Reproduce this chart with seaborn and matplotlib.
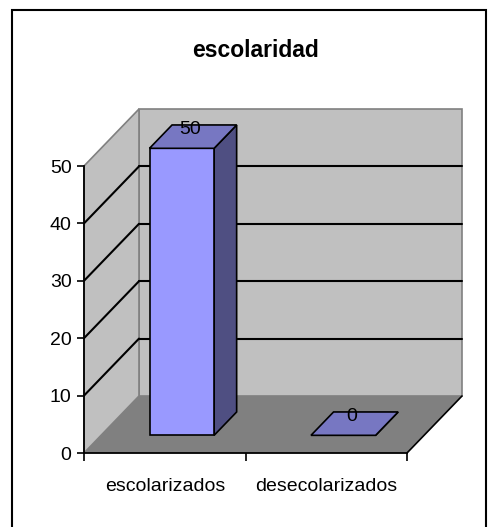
import matplotlib
matplotlib.use('Agg')
import matplotlib.pyplot as plt
import seaborn as sns
from matplotlib.patches import Polygon, Rectangle
from matplotlib import font_manager

categories = ['escolarizados', 'desecolarizados']
values = [50, 0]
yticks = [0, 10, 20, 30, 40, 50]
title = 'escolaridad'

sns.set_theme(style='white')
names = {f.name for f in font_manager.fontManager.ttflist}
narrow = 'Liberation Sans Narrow' in names
fam = ['Liberation Sans Narrow'] if narrow else ['Liberation Sans']
plt.rcParams['font.family'] = fam + ['DejaVu Sans']
plt.rcParams['text.color'] = 'black'
plt.rcParams['xtick.color'] = 'black'
plt.rcParams['ytick.color'] = 'black'
LS = 15.5 if narrow else 14
TS = 19 if narrow else 16.5

W, H = 488, 527
fig = plt.figure(figsize=(W / 100, H / 100), dpi=100)
fig.patch.set_facecolor('white')
ax = fig.add_axes([84 / W, (H - 453) / H, (407 - 84) / W, (453 - 166) / H])

sns.barplot(x=categories, y=values, ax=ax, width=0.4, color='#9999FF',
            saturation=1, edgecolor='black', linewidth=1.2)
bars = list(ax.patches)

ax.set_xlim(-0.5, 1.5)
ax.set_ylim(0, 50)
ax.patch.set_visible(False)

# depth of the 3D box in data units
DX = 55 / ((407 - 84) / 2)
DY = 57 / ((453 - 166) / 50)
x0w, x1w = -0.5, 1.5
ymax = yticks[-1]

# floor
ax.add_patch(Polygon([(x0w, 0), (x1w, 0), (x1w + DX, DY), (x0w + DX, DY)],
                     closed=True, facecolor='#808080', edgecolor='none',
                     zorder=1, clip_on=False))
ax.plot([x1w, x1w + DX], [0, DY], color='black', lw=1.2, zorder=2, clip_on=False)
# back wall
ax.add_patch(Rectangle((x0w + DX, DY), x1w - x0w, ymax, facecolor='#C0C0C0',
                       edgecolor='#808080', lw=1.2, zorder=1, clip_on=False))
# left wall
ax.add_patch(Polygon([(x0w, 0), (x0w, ymax), (x0w + DX, ymax + DY), (x0w + DX, DY)],
                     closed=True, facecolor='#C0C0C0', edgecolor='#808080',
                     lw=1.2, zorder=1, clip_on=False))
# gridlines
for v in yticks[1:-1]:
    ax.plot([x0w + DX, x1w + DX], [v + DY, v + DY], color='black', lw=1.5,
            zorder=2, clip_on=False)
    ax.plot([x0w, x0w + DX], [v, v + DY], color='black', lw=1.5,
            zorder=2, clip_on=False)

# 3D bars
f = 0.31
b = 0.41
bdx, bdy = b * DX, b * DY
for p, val in zip(bars, values):
    xs = p.get_x() + f * DX
    w = p.get_width()
    h = p.get_height()
    ys = f * DY
    p.set_x(xs)
    p.set_y(ys)
    p.set_zorder(5)
    p.set_clip_on(False)
    side = Polygon([(xs + w, ys), (xs + w, ys + h), (xs + w + bdx, ys + h + bdy),
                    (xs + w + bdx, ys + bdy)], closed=True, facecolor='#4F4F82',
                   edgecolor='black', lw=1.2, zorder=4, clip_on=False)
    top = Polygon([(xs, ys + h), (xs + w, ys + h), (xs + w + bdx, ys + h + bdy),
                   (xs + bdx, ys + h + bdy)], closed=True, facecolor='#7777C2',
                  edgecolor='black', lw=1.2, zorder=6, clip_on=False)
    ax.add_patch(side)
    ax.add_patch(top)
    ax.annotate(f'{val}', xy=(xs + w / 2 + bdx / 2, ys + h + bdy / 2),
                xytext=(-3, 3), textcoords='offset pixels', ha='center',
                va='baseline', fontsize=LS, color='black', zorder=7,
                annotation_clip=False)

# axes
for s in ['top', 'right']:
    ax.spines[s].set_visible(False)
for s in ['left', 'bottom']:
    ax.spines[s].set_visible(True)
    ax.spines[s].set_color('black')
    ax.spines[s].set_linewidth(1.3)
    ax.spines[s].set_zorder(8)
ax.set_yticks(yticks)
ax.set_yticklabels([str(t) for t in yticks])
ax.tick_params(axis='y', direction='out', length=5, width=1.2, color='black',
               labelcolor='black', labelsize=LS, pad=4, left=True)
ax.set_xticks([-0.5, 0.5, 1.5])
ax.set_xticklabels(['', '', ''])
ax.tick_params(axis='x', which='major', direction='out', length=6, width=1.2,
               color='black', bottom=True)
ax.set_xticks([0, 1], minor=True)
ax.set_xticklabels(categories, minor=True)
ax.tick_params(axis='x', which='minor', length=0, labelsize=LS,
               labelcolor='black', pad=18)
ax.set_xlabel('')
ax.set_ylabel('')

fig.text(255 / W, 1 - 57 / H, title, ha='center', va='baseline',
         fontsize=TS, fontweight='bold', color='black')

fig.add_artist(Rectangle((12 / W, -0.05), (486 - 12) / W, 1.05 - 10 / H,
                         transform=fig.transFigure, fill=False,
                         edgecolor='black', lw=1.5))

fig.savefig('out.png', dpi=100)
